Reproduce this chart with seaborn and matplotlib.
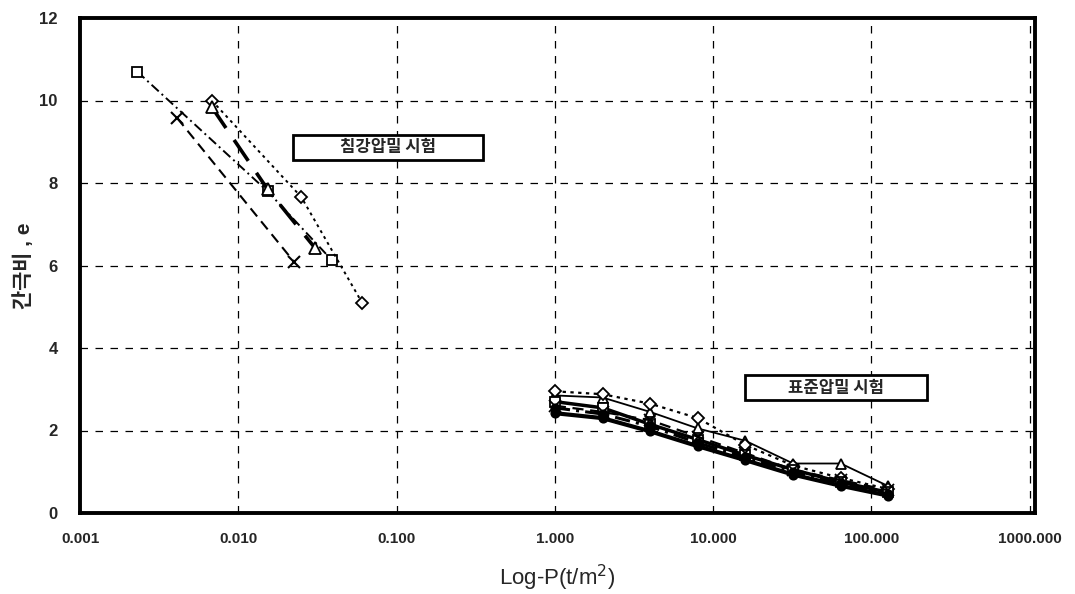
import matplotlib
matplotlib.use("Agg")
import matplotlib.pyplot as plt
from matplotlib.patches import Rectangle
import seaborn as sns
import pandas as pd
import numpy as np

# ---- data ----
# rapid (settling) consolidation tests: pressure (t/m2), void ratio e
settle_sq_p = [0.0023, 0.0153, 0.039]
settle_sq_e = [10.7, 7.8, 6.13]
settle_dia_p = [0.0068, 0.025, 0.0605]
settle_dia_e = [10.0, 7.66, 5.1]
settle_tri_p = [0.0068, 0.0153, 0.0306]
settle_tri_e = [9.84, 7.85, 6.42]
settle_x_p = [0.0041, 0.0226]
settle_x_e = [9.58, 6.08]

# standard consolidation tests
std_p = [1, 2, 4, 8, 16, 32, 64, 128]
std_tri_e = [2.85, 2.80, 2.45, 2.05, 1.75, 1.20, 1.20, 0.65]
std_dia_e = [2.95, 2.88, 2.65, 2.30, 1.65, 1.15, 0.85, 0.58]
std_sq_e = [2.70, 2.55, 2.15, 1.78, 1.40, 1.05, 0.75, 0.50]
std_x_e = [2.60, 2.45, 2.25, 1.85, 1.45, 1.05, 0.80, 0.55]
std_dd_e = [2.55, 2.40, 2.10, 1.70, 1.35, 1.00, 0.72, 0.45]
std_circ_e = [2.42, 2.30, 1.98, 1.62, 1.28, 0.93, 0.66, 0.42]

x_ticks = [0.001, 0.01, 0.1, 1, 10, 100, 1000]
x_ticklabels = ["0.001", "0.010", "0.100", "1.000", "10.000", "100.000", "1000.000"]
y_ticks = [0, 2, 4, 6, 8, 10, 12]

ylabel = "간극비 , e"
xlabel = "Log-P(t/m$^2$)"
box1 = "침강압밀 시험"
box2 = "표준압밀 시험"

sns.set_theme(style="white")
plt.rcParams['font.family'] = ['Liberation Sans', 'Noto Sans CJK KR', 'DejaVu Sans']

fig = plt.figure(figsize=(10.75, 5.94), dpi=100)
ax = fig.add_axes([80/1075, 1-513/594, 955/1075, 495/594])

def draw(p, e, marker, ls, lw, ms=7, fill='white', mew=1.3):
    df = pd.DataFrame({"p": p, "e": e})
    sns.lineplot(data=df, x="p", y="e", ax=ax, color="black", linestyle=ls,
                 linewidth=lw, marker=marker, markersize=ms,
                 markerfacecolor=fill, markeredgecolor="black",
                 markeredgewidth=mew, sort=False, estimator=None)

draw(settle_sq_p, settle_sq_e, 's', (0, (5, 2, 1, 2)), 1.4)
draw(settle_dia_p, settle_dia_e, 'D', (0, (1.5, 2)), 1.4, ms=6)
draw(settle_tri_p, settle_tri_e, '^', (0, (7, 4)), 2.6, ms=8)
draw(settle_x_p, settle_x_e, 'x', (0, (5, 3)), 1.5, ms=9, mew=1.5)

draw(std_p, std_tri_e, '^', '-', 1.3, ms=7)
draw(std_p, std_dia_e, 'D', (0, (1.5, 2)), 1.6, ms=6)
draw(std_p, std_sq_e, 's', '-', 2.5, ms=7)
draw(std_p, std_x_e, 'x', (0, (5, 3)), 1.6, ms=8)
draw(std_p, std_dd_e, 'o', (0, (5, 2, 1, 2)), 2.2, ms=6, fill='black')
draw(std_p, std_circ_e, 'o', '-', 3.0, ms=6, fill='black')

ax.set_xscale('log')
ax.set_xlim(0.001, 1080)
ax.set_ylim(0, 12)
ax.set_xticks(x_ticks)
ax.set_xticklabels(x_ticklabels)
ax.set_yticks(y_ticks)
ax.set_yticklabels([str(v) for v in y_ticks])
ax.minorticks_off()
ax.tick_params(axis='x', length=0, labelsize=11, pad=14)
ax.tick_params(axis='y', length=0, labelsize=12, pad=16)
for lab in ax.get_xticklabels() + ax.get_yticklabels():
    lab.set_fontweight('bold')

ax.grid(True, which='major', color='black', linestyle=(0, (6, 6)), linewidth=0.9)
for s in ax.spines.values():
    s.set_color('black')
    s.set_linewidth(2.8)

ax.set_xlabel(xlabel, fontsize=16, labelpad=12)
ax.set_ylabel(ylabel, fontsize=15, fontweight='bold', labelpad=4)

def label_box(x0, y0, w, h, text):
    ax.add_patch(Rectangle((x0, y0), w, h, transform=ax.transAxes, facecolor='white',
                           edgecolor='black', linewidth=2.0, zorder=5))
    ax.text(x0 + w / 2, y0 + h * 0.3, text, transform=ax.transAxes, ha='center',
            va='baseline', fontsize=12, fontweight='bold', family=['Noto Sans CJK KR'],
            zorder=6)

label_box(0.223, 0.713, 0.199, 0.051, box1)
label_box(0.696, 0.228, 0.191, 0.051, box2)

leg = ax.get_legend()
if leg is not None:
    leg.remove()

fig.savefig("out.png", dpi=100)
